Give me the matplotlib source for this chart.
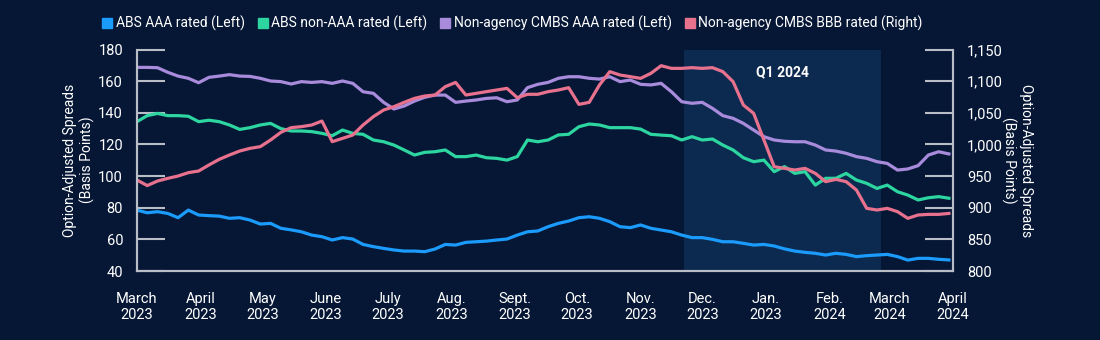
import matplotlib
matplotlib.use("Agg")
import matplotlib.pyplot as plt
from matplotlib.lines import Line2D
import pandas as pd

plt.rcParams['font.family'] = ['Roboto', 'DejaVu Sans']

# one reading every 5 days, from 1 March 2023
dates = pd.date_range("2023-03-01", periods=80, freq="5D")

abs_aaa = [78.5, 76.8, 77.5, 76.4, 73.7, 78.5, 75.4, 75.0, 74.7, 73.3,
           73.7, 72.2, 69.7, 70.1, 67.0, 66.0, 64.8, 62.7, 61.7, 59.6,
           61.1, 60.2, 56.8, 55.4, 54.3, 53.3, 52.6, 52.6, 52.2, 53.9,
           56.8, 56.4, 58.1, 58.5, 58.9, 59.6, 60.2, 62.7, 64.8, 65.3,
           68.0, 70.1, 71.6, 73.7, 74.3, 73.3, 71.2, 68.0, 67.4, 69.1,
           67.0, 65.9, 64.8, 62.7, 61.1, 61.1, 60.0, 58.5, 58.5, 57.5,
           56.4, 56.8, 55.8, 54.0, 52.6, 51.8, 51.2, 50.1, 51.2, 50.5,
           49.1, 49.7, 50.1, 50.5, 49.1, 46.9, 48.0, 48.0, 47.4, 47.0]

abs_non_aaa = [134.4, 138.2, 139.6, 138.2, 138.2, 137.8, 134.4, 135.3, 134.4, 132.3,
               129.5, 130.6, 132.3, 133.3, 130.0, 128.5, 128.5, 128.1, 127.0, 125.5,
               129.1, 127.0, 126.4, 122.8, 121.7, 119.6, 116.5, 113.3, 115.0, 115.4,
               116.5, 112.3, 112.3, 113.3, 111.6, 111.2, 110.1, 112.3, 122.8, 121.7,
               122.8, 126.0, 126.4, 131.2, 132.9, 132.3, 130.6, 130.6, 130.6, 129.7,
               126.4, 125.9, 125.5, 122.8, 124.9, 122.8, 123.4, 119.6, 116.5, 111.6,
               109.1, 110.1, 102.8, 106.0, 101.7, 102.8, 94.3, 98.6, 98.6, 101.7,
               97.5, 95.4, 92.2, 94.3, 90.1, 88.0, 84.9, 86.3, 87.0, 86.0]

cmbs_aaa = [168.7, 168.7, 168.5, 165.6, 163.2, 161.8, 159.0, 162.4, 163.2, 164.1,
            163.2, 163.0, 161.8, 160.1, 159.7, 158.2, 159.7, 159.2, 159.7, 158.6,
            160.1, 158.6, 153.3, 152.3, 146.6, 142.4, 144.3, 147.4, 149.8, 151.2,
            151.2, 146.6, 147.4, 148.1, 149.1, 149.5, 147.0, 148.1, 155.9, 158.0,
            159.2, 161.8, 162.8, 162.8, 161.8, 161.3, 162.8, 159.7, 160.7, 158.0,
            157.6, 158.6, 153.3, 147.0, 146.0, 146.6, 142.8, 138.2, 136.5, 133.3,
            129.1, 124.9, 122.8, 122.0, 121.7, 121.7, 119.6, 116.5, 115.8, 114.4,
            112.3, 111.2, 109.1, 108.0, 103.8, 104.5, 106.6, 113.3, 115.4, 114.0]

cmbs_bbb = [943.8, 935.0, 942.2, 946.4, 950.1, 955.4, 958.0, 967.5, 976.4, 983.3,
            989.6, 993.8, 996.5, 1007.0, 1019.1, 1026.5, 1028.1, 1030.7, 1037.0, 1004.4,
            1009.6, 1014.9, 1030.7, 1043.9, 1054.4, 1059.7, 1066.5, 1072.8, 1076.5, 1078.1,
            1091.3, 1098.0, 1078.1, 1080.7, 1083.4, 1086.0, 1088.6, 1073.9, 1079.2, 1079.2,
            1083.4, 1086.0, 1089.7, 1063.3, 1066.5, 1093.9, 1115.0, 1109.7, 1107.1, 1104.4,
            1112.3, 1124.4, 1120.2, 1120.2, 1121.3, 1120.2, 1121.3, 1115.0, 1099.2, 1062.3,
            1049.1, 1007.0, 964.9, 962.2, 959.6, 962.2, 954.3, 941.2, 944.8, 941.2,
            928.0, 899.0, 896.4, 899.0, 893.8, 883.2, 888.5, 889.5, 889.5, 891.0]

series_names = ["ABS AAA rated (Left)", "ABS non-AAA rated (Left)",
                "Non-agency CMBS AAA rated (Left)", "Non-agency CMBS BBB rated (Right)"]
month_ticks = pd.date_range("2023-03-01", "2024-04-01", freq="MS")
month_labels = ["March\n2023", "April\n2023", "May\n2023", "June\n2023", "July\n2023",
                "Aug.\n2023", "Sept.\n2023", "Oct.\n2023", "Nov.\n2023", "Dec.\n2023",
                "Jan.\n2023", "Feb.\n2024", "March\n2024", "April\n2024"]
q1_start, q1_end = pd.Timestamp("2023-11-22"), pd.Timestamp("2024-02-26")
ylabel = "Option-Adjusted Spreads\n(Basis Points)"

bg = "#061736"
shade = "#0c2a50"
axis_grey = "#b9bdc6"
colors = ["#1b9bfb", "#2dd6a0", "#a98bdc", "#e8728e"]

fig = plt.figure(figsize=(11, 3.4), dpi=100, facecolor=bg)
ax = fig.add_axes([0.1245, 0.2029, 0.7419, 0.6515])
ax.set_facecolor(bg)
ax2 = ax.twinx()

ax.axvspan(q1_start, q1_end, color=shade, zorder=0, lw=0)
ax.text(q1_start + (q1_end - q1_start) / 2, 165.8, "Q1 2024", color="white",
        fontsize=10, fontweight="bold", ha="center", va="center")

lw = 2.3
ax.plot(dates, abs_aaa, color=colors[0], lw=lw)
ax.plot(dates, abs_non_aaa, color=colors[1], lw=lw)
ax.plot(dates, cmbs_aaa, color=colors[2], lw=lw)
ax2.plot(dates, cmbs_bbb, color=colors[3], lw=lw)

ax.set_xlim(pd.Timestamp("2023-03-01"), pd.Timestamp("2024-04-01"))
ax.set_ylim(40, 180)
ax2.set_ylim(800, 1150)
ax.set_yticks(range(40, 181, 20))
ax2.set_yticks(range(800, 1151, 50))
ax2.set_yticklabels([f"{v:,}" for v in range(800, 1151, 50)])
ax.set_xticks(month_ticks)
ax.set_xticklabels(month_labels)

for a in (ax, ax2):
    for s in a.spines.values():
        s.set_color(axis_grey)
        s.set_linewidth(1.5)
    a.spines["top"].set_visible(False)
    a.tick_params(axis="y", direction="in", length=20, width=1.5, color=axis_grey,
                  labelcolor="white", labelsize=10.5, pad=10)
ax.tick_params(axis="x", length=0, labelcolor="white", labelsize=10.5, pad=15)

# axis titles placed by hand so the right one clears the tick labels
fig.text(79 / 1100, 0.529, ylabel, color="white", fontsize=10, rotation=90,
         ha="center", va="center", multialignment="center")
fig.text(1017 / 1100, 0.529, ylabel, color="white", fontsize=10, rotation=270,
         ha="center", va="center", multialignment="center")

handles = [Line2D([], [], marker="s", ls="none", color=c, markersize=7) for c in colors]
fig.legend(handles, series_names, loc="center", bbox_to_anchor=(0.465, 0.932), ncol=4,
           frameon=False, fontsize=10, labelcolor="white", handletextpad=0.1,
           columnspacing=0.8, handlelength=1.0)

fig.savefig("out.png", dpi=100, facecolor=bg)
